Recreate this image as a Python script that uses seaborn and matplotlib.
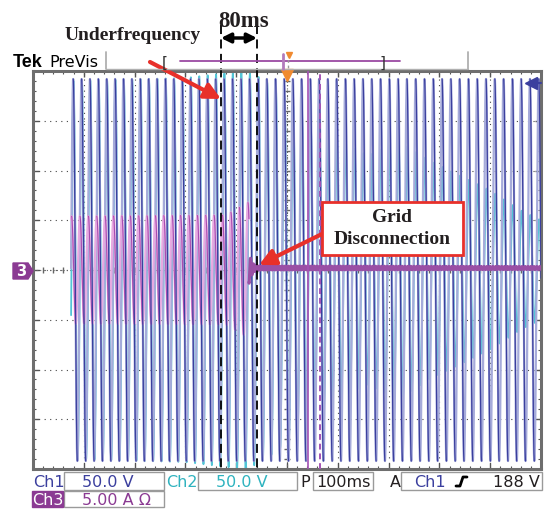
import numpy as np
import pandas as pd
import seaborn as sns
import matplotlib.pyplot as plt
from matplotlib import patches, transforms
from matplotlib.lines import Line2D

# scope settings (readout)
ch1_scale = 50.0      # V/div
ch2_scale = 50.0      # V/div
ch3_scale = 5.0       # A/div
time_div = 100        # ms/div
trig_level = 188      # V

# events, ms relative to trigger
t_start = -425
t_end = 500
t_underfreq = -130
t_disconnect = -59
t_ch3_drop = -75
t_cursor_a = 41
t_cursor_b = 65

# ch1 frequency profile
freq_t = [-425, -130, -59, 100, 500]
freq_hz = [60.6, 60.6, 58.8, 57.8, 57.8]

# peak values
ch1_peak = 192        # V
ch2_env_t = [-425, -200, -120, -80, -59, -20, 40, 100, 160, 220, 280, 340, 400, 460, 500]
ch2_env_v = [190, 193, 198, 200, 195, 182, 150, 130, 115, 130, 110, 95, 80, 60, 50]
ch3_env_t = [-425, -120, -90, -76]
ch3_env_a = [5.4, 5.5, 6.4, 6.8]
ch3_res_t = [-75, -72, -66, -55, 500]
ch3_res_a = [1.6, 1.0, 0.4, 0.2, 0.15]
ch3_dc = 0.2          # A

W, H = 548, 510
blue_dk = "#3b3f9e"
blue_lt = "#a6abda"
cyan = "#52c4d6"
pink_lt = "#e7a9e1"
mag = "#a94db0"
purple = "#8b3a93"
red = "#e8302a"
ink = "#231f20"

sns.set_theme(style="white")
plt.rcParams["font.family"] = ["DejaVu Sans"]

fig = plt.figure(figsize=(W / 100, H / 100), dpi=100)
fig.patch.set_facecolor("white")
ax = fig.add_axes([33 / W, 40 / H, 508 / W, 398 / H])
ax.set_facecolor("white")


def fx(x):
    return x / W


def fy(y):
    return 1 - y / H


# traces
t = np.linspace(t_start, t_end, 40000)
dt = t[1] - t[0]
f = np.interp(t, freq_t, freq_hz)
phase = 2 * np.pi * np.cumsum(f) * dt / 1000.0

ch1 = ch1_peak * np.sin(phase) / ch1_scale
ch2 = np.interp(t, ch2_env_t, ch2_env_v) * np.sin(phase - 0.25) / ch2_scale
pre = t < t_ch3_drop
ch3_pre = np.interp(t[pre], ch3_env_t, ch3_env_a) * np.sin(phase[pre] + 1.2) / ch3_scale
tp = t[~pre]
ch3_post = (np.interp(tp, ch3_res_t, ch3_res_a) * np.sin(3 * phase[~pre] + 1.0) + ch3_dc) / ch3_scale


def falling_runs(tt, vv):
    fall = np.gradient(vv) < 0
    run = np.cumsum(np.r_[True, fall[1:] != fall[:-1]])
    df = pd.DataFrame({"t": tt, "v": vv, "run": run})
    return df[fall]


def one(tt, vv):
    return pd.DataFrame({"t": tt, "v": vv})


sns.lineplot(data=one(t, ch2), x="t", y="v", ax=ax, color=cyan, lw=1.3,
             estimator=None, sort=False, legend=False, zorder=2)
sns.lineplot(data=one(t, ch1), x="t", y="v", ax=ax, color=blue_lt, lw=1.6,
             estimator=None, sort=False, legend=False, zorder=2.2)
sns.lineplot(data=one(t[pre], ch3_pre), x="t", y="v", ax=ax, color=pink_lt, lw=1.6,
             estimator=None, sort=False, legend=False, zorder=2.4)
sns.lineplot(data=falling_runs(t[pre], ch3_pre), x="t", y="v", units="run", ax=ax,
             color=mag, lw=0.8, estimator=None, sort=False, legend=False, zorder=2.6)
sns.lineplot(data=falling_runs(t, ch1), x="t", y="v", units="run", ax=ax,
             color=blue_dk, lw=0.9, estimator=None, sort=False, legend=False, zorder=2.8)
sns.lineplot(data=one(tp, ch3_post), x="t", y="v", ax=ax, color="#9a4fa5", lw=2.2,
             estimator=None, sort=False, legend=False, zorder=3)

# graticule
ax.set_xlim(-5 * time_div, 5 * time_div)
ax.set_ylim(-4, 4)
ax.set_xlabel("")
ax.set_ylabel("")
ax.set_xticks(np.arange(-500, 501, time_div))
ax.set_xticks(np.arange(-500, 501, time_div / 5), minor=True)
ax.set_yticks(np.arange(-4, 5, 1))
ax.set_yticks(np.arange(-4, 4.01, 0.2), minor=True)
ax.tick_params(which="both", direction="in", top=True, right=True, bottom=True, left=True,
               labelbottom=False, labelleft=False, color="#555555")
ax.tick_params(which="major", length=4, width=1)
ax.tick_params(which="minor", length=2.5, width=0.8)
ax.grid(True, which="major", color="#444444", lw=0.8, ls=(0, (1, 4)))
for s in ax.spines.values():
    s.set_color("#6e6e6e")
    s.set_linewidth(2.2)
ax.axhline(0, color="#666666", lw=0.8, ls=(0, (1, 2)), zorder=1)
ax.axvline(0, color="#666666", lw=0.8, ls=(0, (1, 2)), zorder=1)
mx = np.arange(-500, 501, time_div / 5)
ax.plot(mx, np.zeros_like(mx), ls="none", marker="|", ms=5, color="#666666", zorder=1)
my = np.arange(-4, 4.01, 0.2)
ax.plot(np.zeros_like(my), my, ls="none", marker="_", ms=5, color="#666666", zorder=1)

# cursors and markers
ax.axvline(t_cursor_a, color="#a452b5", lw=1.2, zorder=3.5)
ax.axvline(t_cursor_b, color="#a452b5", lw=1.4, ls=(0, (3, 2)), zorder=3.5)
trans = transforms.blended_transform_factory(ax.transData, fig.transFigure)
for tx in (t_underfreq, t_disconnect):
    ax.plot([tx, tx], [fy(26), fy(470)], transform=trans, color="black", lw=1.3,
            ls=(0, (5, 3)), clip_on=False, zorder=4)
ax.plot([0], [3.92], marker="v", ms=8, color="#f08a30", clip_on=False, zorder=5)
ax.plot([480], [trig_level / ch1_scale], marker="<", ms=8, color=blue_dk, clip_on=False, zorder=5)
ax.plot([480, 500], [trig_level / ch1_scale] * 2, color=blue_dk, lw=1.5, clip_on=False, zorder=5)

# 80ms double arrow
ax.annotate("", xy=(t_disconnect, fy(39)), xytext=(t_underfreq, fy(39)), xycoords=trans,
            textcoords=trans,
            arrowprops=dict(arrowstyle="<|-|>", color="black", lw=2.5, mutation_scale=14,
                            shrinkA=0, shrinkB=0))

serif = dict(family="Liberation Serif", weight="bold", color=ink)
fig.text(fx(244), fy(27), "80ms", fontsize=16.5, ha="center", va="baseline", **serif)
fig.text(fx(133), fy(40), "Underfrequency", fontsize=14, ha="center", va="baseline", **serif)

ax.annotate("", xy=(fx(221), fy(100)), xytext=(fx(150), fy(63)), xycoords="figure fraction",
            arrowprops=dict(arrowstyle="-|>", color=red, lw=3, mutation_scale=24,
                            shrinkA=0, shrinkB=0), zorder=6)
fig.add_artist(patches.Rectangle((fx(322), fy(256)), fx(463) - fx(322), fy(203) - fy(256),
                                 transform=fig.transFigure, facecolor="white",
                                 edgecolor=red, lw=2, zorder=6))
fig.text(fx(392), fy(218), "Grid", fontsize=14, ha="center", va="center", zorder=7, **serif)
fig.text(fx(392), fy(240), "Disconnection", fontsize=14, ha="center", va="center", zorder=7, **serif)
ax.annotate("", xy=(fx(259), fy(266)), xytext=(fx(322), fy(235)), xycoords="figure fraction",
            arrowprops=dict(arrowstyle="-|>", color=red, lw=3, mutation_scale=24,
                            shrinkA=0, shrinkB=0), zorder=6)

# top status bar
fig.text(fx(13), fy(67), "Tek", fontsize=13, weight="bold", family="Liberation Sans",
         color="black", va="baseline")
fig.text(fx(49), fy(67), "PreVis", fontsize=11.5, color="black", va="baseline")
fig.add_artist(Line2D([fx(106), fx(468)], [fy(70), fy(70)], color="#b0b0b0", lw=1))
for xv in (106, 468):
    fig.add_artist(Line2D([fx(xv), fx(xv)], [fy(53), fy(70)], color="#b0b0b0", lw=1.3))
fig.text(fx(165), fy(63), "[", fontsize=11, ha="center", va="center", color="#333333")
fig.text(fx(383), fy(63), "]", fontsize=11, ha="center", va="center", color="#333333")
fig.add_artist(Line2D([fx(180), fx(400)], [fy(62), fy(62)], color="#9b4aa3", lw=1.3))
fig.add_artist(Line2D([fx(283), fx(283)], [fy(55), fy(70)], color="#b27bbb", lw=2))
fig.add_artist(Line2D([fx(288), fx(288)], [fy(55), fy(70)], color="#999999", lw=1, ls=(0, (2, 2))))
fig.add_artist(Line2D([fx(289)], [fy(56)], marker="v", ms=5, color="#f08a30", ls="none"))

# ch3 ground marker
fig.add_artist(patches.Polygon([(fx(13), fy(264)), (fx(28), fy(264)), (fx(33), fy(272)),
                                (fx(28), fy(280)), (fx(13), fy(280))],
                               closed=True, transform=fig.transFigure, color=purple))
fig.text(fx(21), fy(272), "3", fontsize=10.5, weight="bold", color="white", ha="center", va="center")

# bottom readout
def box(x0, y0, x1, y1):
    fig.add_artist(patches.Rectangle((fx(x0), fy(y1)), fx(x1) - fx(x0), fy(y0) - fy(y1),
                                     transform=fig.transFigure, facecolor="white",
                                     edgecolor="#9a9a9a", lw=1))


box(64, 473, 164, 491)
box(198, 473, 297, 491)
box(313, 473, 373, 491)
box(401, 473, 542, 491)
box(64, 492, 164, 508)
fig.add_artist(patches.Rectangle((fx(32), fy(508)), fx(63) - fx(32), fy(492) - fy(508),
                                 transform=fig.transFigure, color=purple))

row1, row2 = 482.5, 500.5
fs = 11.5
fig.text(fx(33), fy(row1), "Ch1", fontsize=fs, color=blue_dk, va="center")
fig.text(fx(108), fy(row1), "50.0 V", fontsize=fs, color=blue_dk, va="center", ha="center")
fig.text(fx(166), fy(row1), "Ch2", fontsize=fs, color="#2fb3bf", va="center")
fig.text(fx(242), fy(row1), "50.0 V", fontsize=fs, color="#2fb3bf", va="center", ha="center")
fig.text(fx(305), fy(row1), "P", fontsize=fs, color=ink, va="center", ha="center")
fig.text(fx(343), fy(row1), "100ms", fontsize=fs, color=ink, va="center", ha="center")
fig.text(fx(395), fy(row1), "A", fontsize=fs, color=ink, va="center", ha="center")
fig.text(fx(414), fy(row1), "Ch1", fontsize=fs, color=blue_dk, va="center")
fig.add_artist(Line2D([fx(456), fx(460), fx(463), fx(467)],
                      [fy(487), fy(487), fy(478), fy(478)], color="black", lw=2))
fig.text(fx(540), fy(row1), "%d V" % trig_level, fontsize=fs, color=ink, va="center", ha="right")
fig.text(fx(47.5), fy(row2), "Ch3", fontsize=fs, color="white", va="center", ha="center")
fig.text(fx(117), fy(row2), "%.2f A \u03a9" % ch3_scale, fontsize=fs, color=purple,
         va="center", ha="center")

fig.savefig("out.png", dpi=100)
